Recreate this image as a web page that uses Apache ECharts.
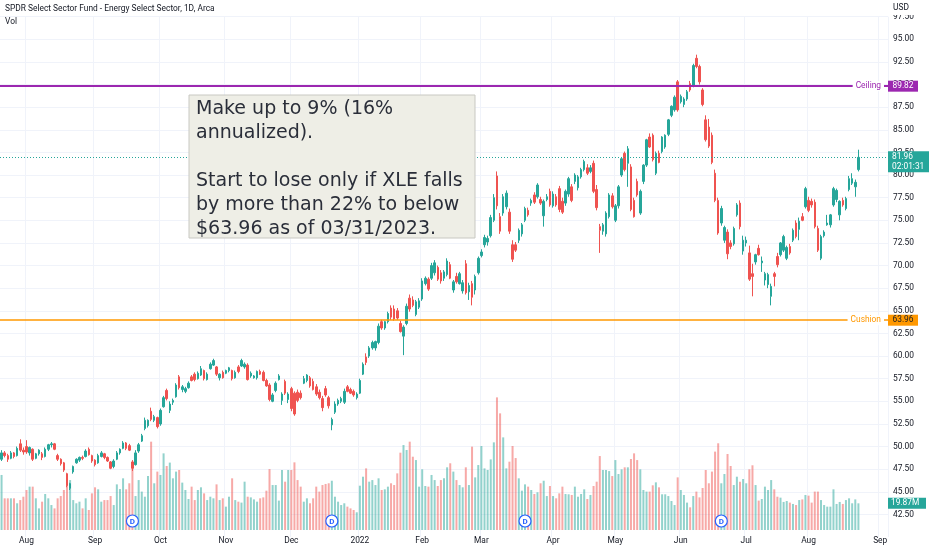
<!DOCTYPE html>
<html><head><meta charset="utf-8">
<script src="https://cdn.jsdelivr.net/npm/echarts@6/dist/echarts.min.js"></script>
<style>html,body{margin:0;padding:0;background:#fff}#c{width:932px;height:550px}</style>
</head><body><div id="c"></div>
<script>
// ---------------- data ----------------
const titleText = 'SPDR Select Sector Fund - Energy Select Sector, 1D, Arca';
const volLabel = 'Vol';
const startDate = '2021-07-21';
const endDate = '2022-09-06';
const marketHolidays = ['2021-09-06','2021-11-25','2021-12-24','2022-01-17','2022-02-21','2022-04-15','2022-05-30','2022-06-20','2022-07-04','2022-09-05'];
const monthNames = ['Jan','Feb','Mar','Apr','May','Jun','Jul','Aug','Sep','Oct','Nov','Dec'];
const priceMin = 40, priceMax = 97.5, priceStep = 2.5;
const ceiling = 89.82, cushion = 63.96, lastPrice = 81.96;
const countdown = '02:01:31';
const lastVolumeText = '19.87M', lastVolume = 19.87;
const dividendDates = ['2021-09-20','2021-12-20','2022-03-21','2022-06-21'];
const noteLines = ['Make up to 9% (16%','annualized).','','Start to lose only if XLE falls','by more than 22% to below','$63.96 as of 03/31/2023.'];
// daily bars: [open, high, low, close]
const ohlc = [
[48.6,49.6,48.4,49.3],[49.3,49.5,48.8,49.0],[49.0,49.2,48.3,48.6],[48.7,49.5,48.6,49.3],[49.3,49.4,48.7,48.9],
[49.0,50.0,48.9,49.8],[50.3,50.8,49.4,49.6],[49.6,49.9,49.1,49.4],[50.0,50.7,49.2,49.4],[49.3,50.0,49.0,49.9],
[49.7,49.8,48.4,48.6],[48.7,49.3,48.6,49.2],[49.2,49.7,49.0,49.6],[49.2,49.4,48.5,48.8],[48.9,49.9,48.8,49.7],
[49.7,50.3,49.5,50.2],[50.2,50.5,49.9,50.3],[50.3,50.4,49.6,49.7],[49.0,49.2,48.4,48.6],[48.6,48.7,47.9,48.1],
[48.2,48.3,47.2,47.4],[47.0,47.1,45.5,45.7],[45.4,46.0,45.2,45.9],[47.2,47.9,47.0,47.8],[48.2,48.7,48.1,48.6],
[48.5,48.9,48.3,48.8],[48.8,49.0,48.5,48.7],[48.9,49.7,48.8,49.5],[49.7,49.9,49.0,49.1],[49.0,49.1,48.2,48.4],
[48.5,48.6,47.8,48.0],[48.2,49.2,48.1,49.0],[48.9,49.5,48.8,49.3],[49.2,49.3,48.6,48.8],[48.8,48.9,48.3,48.4],
[48.3,48.4,47.5,47.6],[47.8,48.6,47.6,48.4],[48.6,49.5,48.5,49.3],[49.3,49.8,49.1,49.7],[49.8,50.6,49.7,50.4],
[50.4,50.5,49.6,49.8],[50.1,50.3,49.5,49.6],[48.3,48.5,47.3,47.6],[48.0,49.6,47.9,49.3],[49.5,50.4,49.3,50.2],
[50.6,51.4,50.5,51.2],[52.0,53.2,51.8,52.9],[52.3,53.0,52.1,52.9],[53.9,54.3,52.8,53.0],[52.9,53.5,52.7,53.3],
[53.2,53.3,52.0,52.2],[52.5,54.2,52.3,54.0],[54.4,55.6,54.3,55.4],[56.2,56.4,55.1,55.3],[54.0,55.0,53.7,54.7],
[54.9,55.3,54.6,55.1],[55.5,57.0,55.4,56.8],[57.7,57.9,56.3,56.5],[56.3,56.8,56.0,56.6],[56.1,56.6,55.9,56.4],
[56.5,57.2,56.4,57.0],[57.7,57.9,57.2,57.3],[58.0,58.2,57.2,57.4],[57.5,58.3,57.4,58.1],[57.9,58.9,57.8,58.6],
[58.4,58.5,57.3,57.5],[57.4,58.2,57.3,58.0],[58.6,59.3,58.5,59.1],[59.0,59.7,58.9,59.5],[58.8,58.9,57.8,58.0],
[57.6,58.1,57.3,58.0],[58.2,58.4,57.5,57.6],[58.1,58.5,58.0,58.4],[58.4,58.8,58.2,58.7],[58.4,58.5,57.3,57.5],
[57.6,58.4,57.5,58.2],[58.8,59.0,58.1,58.3],[58.9,59.7,58.8,59.5],[58.8,59.3,58.6,59.1],[59.0,59.2,57.3,57.4],
[57.8,58.3,57.6,58.1],[57.6,57.9,57.5,57.8],[57.6,58.4,57.4,58.3],[58.3,58.5,57.9,58.0],[58.2,58.4,57.2,57.3],
[57.3,57.5,56.6,56.7],[56.8,57.0,55.0,55.2],[55.0,55.9,54.9,55.7],[56.2,57.2,56.0,57.0],[57.4,58.0,57.3,57.8],
[55.1,56.0,54.6,55.8],[57.2,57.4,55.7,55.9],[55.2,56.0,54.8,55.8],[56.4,56.6,53.9,54.2],[55.9,56.1,53.4,53.6],
[56.0,56.3,54.9,55.1],[55.9,56.2,55.2,55.4],[57.0,57.8,56.9,57.5],[57.3,58.0,57.1,57.9],[57.6,57.8,56.5,56.7],
[57.2,57.5,56.2,56.3],[56.6,56.9,55.6,55.8],[56.0,56.3,55.2,55.4],[55.3,55.6,53.9,54.3],[56.4,56.7,55.5,55.7],
[55.4,55.6,54.2,54.5],[52.4,53.2,51.8,53.0],[53.8,55.0,53.6,54.7],[54.7,55.3,54.5,55.1],[55.0,55.5,54.8,55.3],
[54.9,56.4,54.7,56.1],[56.6,56.8,56.0,56.1],[56.3,56.5,55.8,55.9],[56.1,56.3,55.5,55.7],[55.4,56.0,55.2,55.8],
[55.9,57.5,55.8,57.3],[58.0,59.3,57.9,59.1],[59.9,60.3,59.0,59.3],[60.0,61.1,59.8,60.9],[60.9,61.7,60.7,61.5],
[60.9,61.7,60.6,61.6],[61.5,63.6,61.3,63.3],[63.8,64.0,62.9,63.1],[63.1,63.9,62.9,63.8],[63.8,64.9,63.6,64.7],
[65.3,65.6,64.0,64.3],[65.2,65.6,63.9,64.1],[65.0,65.3,64.0,64.2],[63.6,63.9,62.6,62.7],[62.2,63.4,60.1,63.2],
[63.6,65.8,63.4,65.5],[66.4,66.8,64.9,65.2],[66.2,66.6,65.4,65.6],[64.6,66.2,64.4,66.0],[65.4,66.4,65.2,66.1],
[66.3,68.6,66.1,68.3],[68.0,68.8,67.8,68.6],[68.5,68.7,67.2,67.4],[68.6,70.3,68.4,70.0],[69.2,70.6,68.9,70.3],
[69.8,70.0,68.3,68.5],[69.2,69.5,68.0,68.3],[68.6,69.5,68.3,69.3],[69.0,70.8,68.8,70.5],[70.1,70.4,68.5,68.6],
[67.3,68.4,67.0,68.2],[68.8,69.2,68.0,68.2],[68.0,69.3,67.9,69.1],[67.2,68.4,66.9,68.1],[70.2,70.6,66.8,67.0],
[67.1,68.1,66.2,67.8],[68.0,68.3,65.6,66.5],[67.3,69.0,66.8,68.8],[69.2,71.0,69.0,70.8],[71.1,71.8,70.9,71.5],
[72.3,73.4,72.0,73.1],[72.6,73.3,72.2,73.0],[73.3,75.6,73.1,75.3],[75.0,77.9,74.8,77.5],[79.9,80.4,76.2,76.6],
[75.4,75.8,73.5,73.8],[75.8,77.9,75.5,77.6],[76.5,78.3,76.2,78.0],[75.9,76.3,73.5,73.8],[72.3,72.8,70.4,70.7],
[72.3,72.6,71.5,71.7],[72.8,74.1,72.5,73.9],[73.5,74.7,73.2,74.5],[75.0,76.5,74.8,76.3],[76.1,76.4,75.4,75.6],
[76.9,77.4,76.6,77.2],[77.8,78.1,76.8,77.0],[77.6,79.1,77.4,78.9],[77.3,77.6,76.7,76.9],[75.5,77.3,74.3,77.1],
[77.3,77.9,77.1,77.6],[78.2,78.5,76.5,76.7],[76.6,78.2,76.4,77.9],[77.6,77.9,76.5,76.7],[78.5,78.8,75.9,76.2],
[77.1,77.5,75.7,75.9],[76.9,78.4,76.6,78.2],[77.9,79.8,77.6,79.6],[78.7,79.0,77.0,77.2],[79.3,80.2,79.0,80.0],
[78.6,80.0,78.3,79.8],[79.8,80.8,79.6,80.6],[80.6,81.7,80.4,81.5],[80.8,81.2,80.0,80.2],[80.4,81.1,80.2,80.8],
[81.3,81.6,78.0,78.2],[78.4,78.9,76.1,76.4],[74.3,74.6,71.4,73.9],[73.8,74.7,73.4,74.5],[73.5,76.0,73.2,75.8],
[75.4,78.0,75.2,77.8],[77.7,78.0,76.3,76.5],[75.0,76.8,74.8,76.6],[76.6,78.9,76.3,78.7],[80.0,82.0,79.8,81.8],
[82.4,82.6,80.4,80.6],[81.3,83.2,78.7,82.9],[80.9,81.2,76.0,76.2],[77.2,77.5,75.3,75.4],[79.3,79.6,77.6,77.8],
[75.8,78.4,75.6,78.2],[79.3,81.2,79.0,81.1],[81.1,84.0,80.9,83.9],[84.2,84.6,83.0,83.1],[84.4,84.6,81.5,81.7],
[80.2,82.6,80.0,82.4],[82.4,82.7,81.3,81.4],[82.6,84.3,82.4,84.2],[83.1,84.5,82.9,84.4],[84.5,86.2,84.3,86.1],
[86.6,87.7,86.4,87.6],[87.2,88.8,87.0,88.6],[90.3,90.5,87.0,87.2],[88.1,88.9,87.9,88.7],[87.8,88.6,87.5,88.4],
[88.4,89.4,88.2,89.2],[90.1,90.4,89.2,89.4],[89.9,92.3,89.7,92.1],[92.9,93.3,91.8,92.0],[92.0,92.2,90.0,90.3],
[89.4,89.6,87.6,87.8],[86.1,86.6,83.7,83.9],[85.3,86.2,83.0,83.2],[84.4,84.7,81.2,81.4],[80.2,80.6,77.0,77.2],
[77.2,77.5,73.4,73.6],[74.7,76.6,74.4,76.3],[72.8,74.4,72.5,74.2],[73.7,74.0,70.7,71.3],[72.5,72.8,71.8,72.1],
[72.4,74.3,72.2,74.1],[75.6,76.9,75.4,76.7],[76.9,77.2,74.0,74.3],[71.6,73.3,71.2,72.8],[72.5,73.2,72.1,72.8],
[71.4,72.2,68.3,68.5],[69.1,70.2,66.6,68.8],[70.4,71.3,70.1,71.2],[71.9,72.3,71.1,71.2],[70.3,71.0,69.3,70.5],
[68.4,69.3,67.8,69.1],[67.9,69.2,67.5,69.0],[66.6,68.0,65.6,67.7],[69.1,69.3,67.7,68.8],[71.0,71.4,69.8,70.1],
[71.2,72.6,71.0,72.5],[71.7,73.4,71.5,73.2],[70.8,72.2,70.6,72.0],[72.1,72.4,71.2,71.4],[72.8,74.1,72.6,73.9],
[74.7,75.0,73.0,73.2],[74.0,75.3,72.8,74.9],[75.4,75.8,74.9,75.0],[76.5,78.7,76.3,78.5],[77.2,77.6,75.9,76.1],
[77.1,77.4,76.4,76.7],[77.0,77.3,74.1,74.3],[74.1,74.4,71.5,71.7],[70.8,73.4,70.6,73.2],[73.3,73.9,73.1,73.7],
[74.5,75.6,74.4,74.7],[74.5,75.7,74.2,75.6],[76.7,78.7,76.5,78.5],[77.3,78.5,77.0,78.3],[75.6,77.2,75.0,77.1],
[77.2,77.5,76.5,76.7],[76.3,77.6,76.1,77.4],[78.4,79.9,78.2,79.6],[79.1,80.2,78.9,79.6],[78.7,79.5,77.6,79.2],
[80.6,82.8,80.4,81.96]
];
// daily volume, millions
const volumeM = [
41.0,23.6,23.6,23.6,23.6,19.9,22.3,24.8,29.8,32.3,
32.3,23.6,16.1,21.1,26.8,23.6,18.6,16.1,23.6,25.3,
29.8,41.0,37.2,22.3,19.9,21.1,16.1,23.6,14.9,27.3,
31.8,30.3,21.1,22.3,22.3,25.3,18.6,34.0,30.5,38.5,
30.3,34.8,45.9,25.3,37.2,28.6,24.8,40.2,65.8,34.8,
43.5,41.0,57.1,47.7,50.2,38.5,43.5,44.7,35.3,29.8,
23.1,32.3,22.3,29.8,31.8,27.3,22.3,24.8,23.6,34.0,
22.3,23.6,17.4,24.8,38.5,22.3,21.1,20.4,36.0,24.8,
24.3,22.8,21.1,23.6,24.3,29.3,45.4,33.5,33.5,21.9,
44.7,36.0,44.7,44.7,50.4,37.2,32.3,21.1,23.6,19.9,
23.6,32.3,28.6,33.5,34.3,34.8,36.7,24.8,21.1,18.6,
19.9,17.4,16.1,14.9,13.2,33.0,39.7,45.9,36.0,37.2,
33.5,38.5,29.8,30.3,32.3,34.8,33.5,42.2,57.6,63.3,
59.6,65.8,54.6,52.1,32.3,45.2,32.8,32.3,41.0,37.2,
32.8,37.2,38.5,
46.7,49.7,43.5,37.2,33.5,31.8,46.7,33.5,62.1,39.2,
48.4,62.6,45.9,44.7,52.6,65.3,98.8,86.9,69.0,45.9,
50.9,62.6,53.6,38.5,29.3,34.0,32.3,29.8,26.8,28.1,
34.8,36.7,25.3,32.8,25.3,23.6,27.3,32.3,26.8,26.6,
26.1,32.3,24.8,26.8,30.3,23.1,26.1,32.8,36.0,55.1,
44.7,44.7,43.9,40.2,52.1,41.7,45.2,46.7,46.7,52.9,
57.1,52.1,45.2,29.8,28.6,28.6,33.3,35.5,31.8,26.6,
26.6,25.3,21.6,18.6,39.2,29.8,26.1,20.4,16.9,25.3,
28.6,24.3,31.3,44.7,34.8,43.5,58.4,64.6,34.8,41.7,
56.6,47.7,33.5,39.7,36.0,38.0,34.8,45.2,48.2,33.5,
21.9,23.1,32.3,29.8,37.2,30.3,24.8,24.1,20.9,21.6,
20.4,19.4,18.6,22.3,22.8,26.1,25.6,20.4,28.6,28.6,
22.3,18.6,17.4,17.4,30.3,19.4,20.9,19.4,22.3,23.6,
19.9,22.8,19.87
];

// ---------------- build ----------------
function tradingDays(){
  const out=[]; let t=Date.parse(startDate+'T00:00:00Z'); const end=Date.parse(endDate+'T00:00:00Z');
  while(t<=end){const d=new Date(t);const wd=d.getUTCDay();const s=d.toISOString().slice(0,10);
    if(wd!==0&&wd!==6&&marketHolidays.indexOf(s)<0)out.push(s);t+=86400000;}
  return out;
}
const dates = tradingDays();
const monthStart = dates.map((d,i)=> i>0 && d.slice(0,7)!==dates[i-1].slice(0,7));
const UP='#26a69a', DOWN='#ef5350';
const candleData = ohlc.map(r=>[r[0],r[3],r[2],r[1]]);
const volData = volumeM.map((v,i)=>({value:v,itemStyle:{color: ohlc[i][3]>=ohlc[i][0]?'rgba(38,166,154,0.5)':'rgba(239,83,80,0.5)'}}));
const FONT='Roboto', FS=8.4, TXT='#131722', GRID='#f0f3fa';

const chart = echarts.init(document.getElementById('c'), null, {renderer:'canvas'});
chart.setOption({
  animation:false,
  backgroundColor:'#ffffff',
  grid:[{left:0,right:44,top:16.675,bottom:12.95},{left:0,right:44,top:330,bottom:20}],
  xAxis:[
    {type:'category',gridIndex:0,data:dates,boundaryGap:true,axisLine:{show:false},axisTick:{show:false},axisLabel:{show:false},
     splitLine:{show:true,interval:(i)=>monthStart[i],lineStyle:{color:GRID,width:1}}},
    {type:'category',gridIndex:1,data:dates,boundaryGap:true,axisLine:{show:false},axisTick:{show:false},splitLine:{show:false},
     axisLabel:{interval:(i)=>monthStart[i],margin:7,color:TXT,fontSize:FS,fontFamily:FONT,
       formatter:(v)=>{const m=+v.slice(5,7);return m===1?v.slice(0,4):monthNames[m-1];}}}
  ],
  yAxis:[
    {type:'value',gridIndex:0,position:'right',min:priceMin,max:priceMax,interval:priceStep,
     axisLine:{show:false},axisTick:{show:false},
     axisLabel:{showMinLabel:false,margin:5,align:'left',color:TXT,fontSize:FS,fontFamily:FONT,formatter:(v)=>v.toFixed(2)},
     splitLine:{show:true,showMinLine:false,lineStyle:{color:GRID,width:1}}},
    {type:'value',gridIndex:1,min:0,max:149,show:false,splitLine:{show:false}}
  ],
  series:[
    {type:'bar',name:'Vol',xAxisIndex:1,yAxisIndex:1,data:volData,barWidth:2,z:1,silent:true},
    {type:'candlestick',name:'XLE',xAxisIndex:0,yAxisIndex:0,data:candleData,barWidth:2,z:3,silent:true,
     itemStyle:{color:UP,color0:DOWN,borderColor:UP,borderColor0:DOWN,borderWidth:1},
     markLine:{silent:true,symbol:['none','none'],label:{show:false},animation:false,
       data:[
         {yAxis:ceiling,lineStyle:{color:'#9c27b0',width:2,type:'solid'}},
         {yAxis:cushion,lineStyle:{color:'#ff9800',width:1.5,type:'solid'}},
         {yAxis:lastPrice,lineStyle:{color:UP,width:1,type:[1,2]}}
       ]}}
  ]
});

// ---------------- overlay labels ----------------
const yP = v => chart.convertToPixel({yAxisIndex:0}, v);
const yV = v => chart.convertToPixel({yAxisIndex:1}, v);
const xC = i => chart.convertToPixel({xAxisIndex:1}, i);
function T(x,y,text,o){return {type:'text',x:x,y:y,z:100,silent:true,style:Object.assign({text:text,fill:TXT,fontSize:FS,fontFamily:FONT,align:'left',verticalAlign:'middle',textAlign:'left',textVerticalAlign:'middle'},o||{})};}
function R(x,y,w,h,fill,o){return {type:'rect',z:99,silent:true,shape:{x:x,y:y,width:w,height:h},style:Object.assign({fill:fill},o||{})};}
const els=[];
els.push(T(5,9,titleText));
els.push(T(5,22,volLabel));
// note box
els.push(R(189,95,286,143,'#eeeee6',{stroke:'#c8c8c2',lineWidth:1}));
els.push(T(196,97,noteLines.join('\n'),{fontSize:19,fontFamily:'DejaVu Sans',fill:'#2a2e39',lineHeight:24,verticalAlign:'top',textVerticalAlign:'top'}));
// ceiling
const yc=yP(ceiling);
els.push(T(884,yc,'Ceiling',{fill:'#9c27b0',align:'right',textAlign:'right',backgroundColor:'#fff',padding:[1,3]}));
els.push(R(888,yc-5.5,30,11,'#9c27b0'));
els.push(T(903,yc,ceiling.toFixed(2),{fill:'#fff',align:'center',textAlign:'center'}));
// cushion
const yu=yP(cushion);
els.push(T(884,yu,'Cushion',{fill:'#ff9800',align:'right',textAlign:'right',backgroundColor:'#fff',padding:[1,3]}));
els.push(R(888,yu-5.5,30,11,'#ff9800'));
els.push(T(903,yu,cushion.toFixed(2),{fill:'#222',align:'center',textAlign:'center'}));
// last price
const yl=yP(lastPrice);
els.push(R(888,yl-6,41,21,UP));
els.push(T(892,yl,lastPrice.toFixed(2),{fill:'#fff'}));
els.push(T(892,yl+9.5,countdown,{fill:'#fff'}));
// last volume
const yv=yV(lastVolume);
els.push(R(888,yv-5.5,38,11,UP));
els.push(T(891,yv,lastVolumeText,{fill:'#fff'}));
// currency
els.push(R(888,0,44,15,'#fff',{}));
els.push(T(893,8,'USD'));
// dividends
dividendDates.forEach(d=>{const i=dates.indexOf(d);const x=xC(i);
  els.push({type:'circle',z:101,silent:true,shape:{cx:x,cy:521,r:6},style:{fill:'#fff',stroke:'#2962ff',lineWidth:1.2}});
  els.push(Object.assign(T(x,521.5,'D',{fill:'#2962ff',fontSize:8,fontWeight:'bold',align:'center',textAlign:'center'}),{z:102}));
});
chart.setOption({graphic:{elements:els}});
</script></body></html>
